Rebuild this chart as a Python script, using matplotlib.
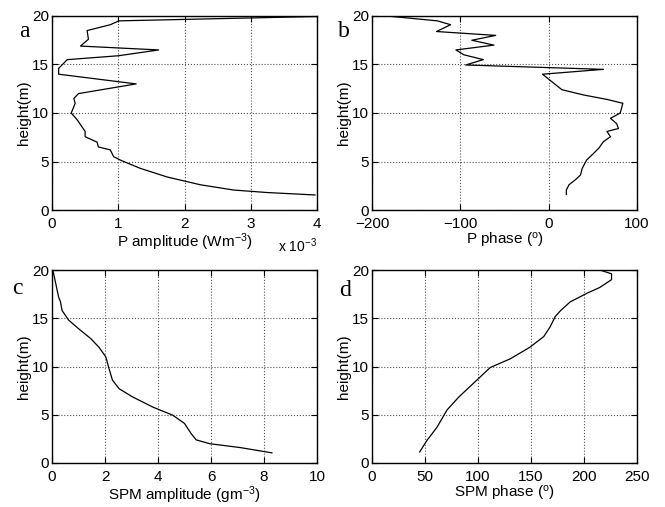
import numpy as np
import matplotlib.pyplot as plt

plt.rcParams['font.family'] = ['Liberation Sans', 'DejaVu Sans']
plt.rcParams['mathtext.default'] = 'regular'
plt.rcParams['font.size'] = 10

# panel a: P amplitude (x 1e-3 W m^-3) vs height
p_amp = [4.0, 1.01, 0.88, 0.53, 0.55, 0.43, 1.61, 1.0, 0.23, 0.1, 0.1, 1.27, 0.40,
         0.33, 0.35, 0.29, 0.38, 0.45, 0.5, 0.5, 0.68, 0.70, 0.88, 0.93, 1.03, 1.33,
         1.74, 2.24, 2.74, 3.25, 3.97]
p_amp_h = [19.95, 19.5, 19.1, 18.5, 17.6, 16.9, 16.5, 15.9, 15.5, 14.6, 14.0, 13.0, 12.0,
           11.5, 11.0, 10.0, 9.3, 8.6, 8.1, 7.55, 7.0, 6.5, 6.2, 5.5, 5.15, 4.3,
           3.4, 2.6, 2.06, 1.8, 1.55]

# panel b: P phase (deg)
p_ph = [-183, -126, -111, -127, -60, -87, -62, -105, -96, -74, -94, 62, -7, 4, 15,
        40, 66, 84, 81, 70, 77, 79, 66, 70, 62, 57, 51, 43, 38, 36, 30, 23, 20, 20]
p_ph_h = [20.0, 19.5, 19.1, 18.4, 18.0, 17.5, 17.0, 16.5, 16.0, 15.5, 14.95, 14.5, 14.0,
          13.2, 12.4, 11.85, 11.4, 11.0, 10.0, 9.45, 8.9, 8.4, 8.1, 7.55, 7.05, 6.4,
          5.85, 5.15, 4.3, 3.6, 3.1, 2.6, 2.06, 1.6]

# panel c: SPM amplitude (g m^-3)
s_amp = [0.04, 0.25, 0.32, 0.38, 0.63, 1.01, 1.46, 1.77, 2.03, 2.15, 2.28, 2.53, 3.04,
         3.8, 4.56, 5.0, 5.25, 5.44, 5.95, 7.1, 8.3]
s_amp_h = [19.9, 17.2, 16.7, 15.8, 14.8, 13.9, 12.9, 12.0, 11.0, 9.8, 8.6, 7.7, 6.85,
           5.8, 4.95, 4.1, 3.05, 2.4, 2.0, 1.6, 1.05]

# panel d: SPM phase (deg)
s_ph = [215, 226, 226, 215, 203, 187, 178, 173, 168, 162, 149, 130.5, 111.6, 99, 82,
        70.8, 61.3, 51.9, 45]
s_ph_h = [20.0, 19.6, 19.0, 18.2, 17.6, 16.7, 15.8, 15.2, 14.1, 13.1, 12.0, 10.8, 9.9,
          8.6, 6.85, 5.5, 3.7, 2.35, 1.15]

fig = plt.figure(figsize=(6.65, 5.07), dpi=100)
W, H = 665.0, 507.0
boxes = [(52, 16, 317, 210), (372, 16, 637, 210), (52, 270, 317, 463), (372, 270, 637, 463)]
axs = [fig.add_axes([l / W, 1 - b / H, (r - l) / W, (b - t) / H]) for l, t, r, b in boxes]

series = [(np.array(p_amp) * 1e-3, p_amp_h), (p_ph, p_ph_h), (s_amp, s_amp_h), (s_ph, s_ph_h)]
xlims = [(0, 4e-3), (-200, 100), (0, 10), (0, 250)]
xticks = [np.arange(0, 5) * 1e-3, [-200, -100, 0, 100], [0, 2, 4, 6, 8, 10], [0, 50, 100, 150, 200, 250]]
xlabels = ['P amplitude (Wm$^{-3}$)', 'P phase ($^{o}$)', 'SPM amplitude (gm$^{-3}$)', 'SPM phase ($^{o}$)']
letters = ['a', 'b', 'c', 'd']
letter_pos = [(-0.105, 0.92), (-0.105, 0.92), (-0.13, 0.905), (-0.10, 0.895)]

for i, ax in enumerate(axs):
    x, y = series[i]
    ax.plot(x, y, color='black', linewidth=0.9)
    ax.set_xlim(*xlims[i])
    ax.set_ylim(0, 20)
    ax.set_xticks(xticks[i])
    ax.set_yticks([0, 5, 10, 15, 20])
    ax.grid(True, linestyle=':', color='#555555', linewidth=0.8)
    ax.tick_params(direction='in', length=4, top=True, right=True, labelsize=11)
    ax.tick_params(axis='x', pad=5)
    ax.tick_params(axis='y', pad=2)
    ax.set_xlabel(xlabels[i], fontsize=11, labelpad=0)
    ax.set_ylabel('height(m)', fontsize=11, labelpad=1)
    for s in ax.spines.values():
        s.set_linewidth(1.0)
    ax.text(letter_pos[i][0], letter_pos[i][1], letters[i], transform=ax.transAxes,
            fontsize=17, family='Liberation Serif', ha='center', va='center')

axs[0].set_xticklabels(['0', '1', '2', '3', '4'])
axs[0].text(1.0, -0.135, 'x 10$^{-3}$', transform=axs[0].transAxes, ha='right', va='top', fontsize=10)

fig.savefig('out.png', dpi=100)
